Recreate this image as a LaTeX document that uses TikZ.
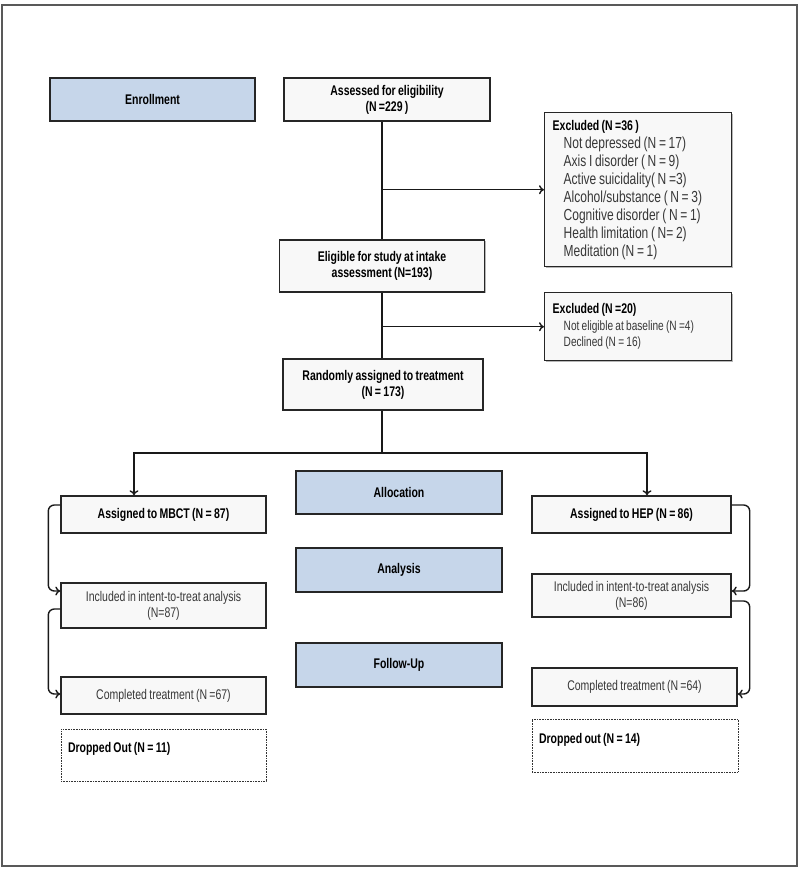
\documentclass[tikz,border=0pt]{standalone}
\usepackage{fontspec}
\setmainfont{Liberation Sans}[FakeStretch=0.75,WordSpace=0.8]
\usetikzlibrary{arrows.meta,shadows}
\definecolor{bluefill}{HTML}{C6D6EA}
\definecolor{boxfill}{HTML}{F8F8F8}
\definecolor{txtgray}{HTML}{383838}
\begin{document}
\begin{tikzpicture}[x=1pt,y=-1pt,
  font=\fontsize{14}{15}\selectfont,
  box/.style={draw=black!85, line width=1.4pt, fill=boxfill, align=center, inner sep=2pt,
    drop shadow={shadow xshift=1.3pt, shadow yshift=-1.3pt, fill=black!40, opacity=0.7}},
  bluebox/.style={box, fill=bluefill, font=\fontsize{14}{16}\selectfont\bfseries},
  boldbox/.style={box, font=\fontsize{14}{16}\selectfont\bfseries},
  graybox/.style={box, text=txtgray, font=\fontsize{14}{16}\selectfont},
  listbox/.style={box, align=flush left, anchor=north west, inner xsep=8pt},
  dropbox/.style={draw=black!80, line width=1pt, dash pattern=on 0.9pt off 0.7pt, fill=white,
    align=flush left, inner xsep=7pt, font=\fontsize{14}{15}\selectfont\bfseries},
  conn/.style={draw=black!90, line width=1.4pt},
  arrow/.style={conn, -{To[length=5pt,width=9pt,line width=1.4pt]}},
]
\useasboundingbox (0,0) rectangle (800,869);
\fill[white] (0,0) rectangle (800,869);
\draw[line width=1.3pt, black!65] (2,5) rectangle (797,866);

% Enrollment row
\node[bluebox, minimum width=205, minimum height=43] (enroll) at (152.5,99.5) {Enrollment};
\node[boldbox, minimum width=206, minimum height=43] (assess) at (387,99.5) {Assessed for eligibility\\(N =229 )};
\node[listbox, text width=171, minimum height=154, font=\fontsize{16}{18}\selectfont] (excl1) at (544,112) {%
  {\fontsize{14}{18}\selectfont\textbf{Excluded (N =36 )}}\\
  {\color{txtgray}\hspace*{11pt}Not depressed (N = 17)\\
  \hspace*{11pt}Axis I disorder ( N = 9)\\
  \hspace*{11pt}Active suicidality( N =3)\\
  \hspace*{11pt}Alcohol/substance ( N = 3)\\
  \hspace*{11pt}Cognitive disorder ( N = 1)\\
  \hspace*{11pt}Health limitation  ( N= 2)\\
  \hspace*{11pt}Meditation (N = 1)}};
\node[boldbox, minimum width=205, minimum height=52] (elig) at (382,266) {Eligible for study at intake\\assessment (N=193)};
\node[listbox, text width=171, minimum height=68, font=\fontsize{13.5}{16.5}\selectfont] (excl2) at (544,292) {%
  {\fontsize{14}{16.5}\selectfont\textbf{Excluded (N =20)}}\\
  {\color{txtgray}\hspace*{11pt}Not eligible at baseline (N =4)\\
  \hspace*{11pt}Declined (N = 16)}};
\node[boldbox, minimum width=200, minimum height=51] (rand) at (383,384.5) {Randomly assigned to treatment\\(N = 173)};

% Stage labels
\node[bluebox, minimum width=206, minimum height=43] (alloc) at (399,492.5) {Allocation};
\node[bluebox, minimum width=206, minimum height=44] (analysis) at (399,570) {Analysis};
\node[bluebox, minimum width=206, minimum height=44] (follow) at (399,665) {Follow-Up};

% Arms
\node[boldbox, minimum width=205, minimum height=37] (mbct) at (163.5,514.5) {Assigned to MBCT (N = 87)};
\node[boldbox, minimum width=199, minimum height=37] (hep) at (631.5,514.5) {Assigned to HEP (N = 86)};
\node[graybox, minimum width=205, minimum height=45] (incl1) at (163.5,605.5) {Included in intent-to-treat analysis\\(N=87)};
\node[graybox, minimum width=199, minimum height=43] (incl2) at (631.5,595.5) {Included in intent-to-treat analysis\\(N=86)};
\node[graybox, minimum width=205, minimum height=37] (comp1) at (163.5,695.5) {Completed treatment (N =67)};
\node[graybox, minimum width=205, minimum height=38] (comp2) at (634.5,687) {Completed treatment (N =64)};
\node[dropbox, text width=191, minimum height=52] (drop1) at (163.5,755) {Dropped Out (N = 11)\\\mbox{}};
\node[dropbox, text width=192, minimum height=53] (drop2) at (635,745.5) {Dropped out (N = 14)\\\mbox{}};

% Connectors
\draw[conn] (assess.south -| elig.north) -- (elig.north);
\draw[arrow] (elig.north |- excl1.west) -- (excl1.west);
\draw[conn] (elig.south) -- (elig.south |- rand.north);
\draw[arrow] (elig.south |- excl2.west) -- (excl2.west);
\coordinate (split) at (382,453);
\draw[conn] (split |- rand.south) -- (split);
\draw[arrow] (split) -| ([xshift=-29.5pt]mbct.north);
\draw[arrow] (split) -| ([xshift=15.5pt]hep.north);

\draw[arrow, rounded corners=6pt] ([yshift=9.5pt]mbct.west) -- ++(-12,0) |- ([yshift=14.5pt]incl1.west);
\draw[arrow, rounded corners=6pt] ([yshift=-3.5pt]incl1.west) -- ++(-12,0) |- ([yshift=1.5pt]comp1.west);
\draw[arrow, rounded corners=6pt] ([yshift=9.5pt]hep.east) -- ++(18,0) |- ([yshift=4.5pt]incl2.east);
\draw[arrow, rounded corners=6pt] ([yshift=-5.5pt]incl2.east) -- ++(18,0) |- ([yshift=-7pt]comp2.east);
\end{tikzpicture}
\end{document}
